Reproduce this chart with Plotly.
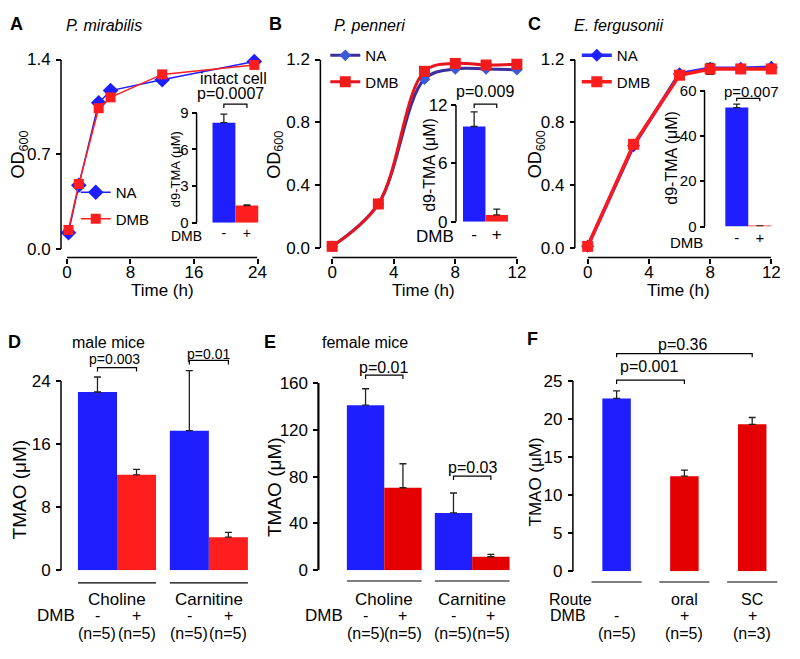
import plotly.graph_objects as go

W, H = 800, 659
def fx(p): return p / W
def fy(p): return 1 - p / H

FONT = "Liberation Sans, Arial, Helvetica, sans-serif"
BLUE = "#1e1eff"
RED = "#ff1e1e"
DRED = "#e40000"
INK = "black"

# ---------------- data ----------------
# A: P. mirabilis growth (OD600)
a_time = [0.2, 1.5, 4, 5.5, 12, 23.6]
a_na = [0.12, 0.47, 1.08, 1.17, 1.25, 1.385]
a_dmb = [0.14, 0.48, 1.04, 1.12, 1.29, 1.36]
# B: P. penneri
b_time = [0, 3, 6, 8, 10, 12]
b_na = [0.01, 0.28, 1.075, 1.14, 1.14, 1.135]
b_dmb = [0.01, 0.28, 1.125, 1.175, 1.165, 1.17]
# C: E. fergusonii
c_time = [0, 3, 6, 8, 10, 12]
c_na = [0.01, 0.65, 1.11, 1.145, 1.145, 1.15]
c_dmb = [0.01, 0.66, 1.10, 1.14, 1.14, 1.14]
c_dmb_err = [0, 0, 0, 0.035, 0, 0]
# insets: d9-TMA (uM)
inset_cats = ["-", "+"]
inset_a = [8.2, 1.4]
inset_a_err = [0.7, 0.05]
inset_b = [9.8, 0.7]
inset_b_err = [1.5, 0.6]
inset_c = [52.5, 0.3]
inset_c_err = [1.5, 0.0]
# D / E: TMAO (uM) in mice
mice_groups = ["Choline", "Carnitine"]
d_na = [22.6, 17.7]
d_na_err = [1.9, 7.6]
d_dmb = [12.1, 4.2]
d_dmb_err = [0.7, 0.6]
e_na = [141, 49]
e_na_err = [14, 17]
e_dmb = [70.5, 11.6]
e_dmb_err = [20.5, 2.0]
mice_n = ["(n=5)", "(n=5)"]
# F: route
f_keys = ["none", "oral", "SC"]
f_route = ["", "oral", "SC"]
f_dmb = ["-", "+", "+"]
f_vals = [22.7, 12.5, 19.3]
f_err = [1.0, 0.8, 0.9]
f_n = ["(n=5)", "(n=5)", "(n=3)"]

fig = go.Figure()

def line_trace(x, y, name, sym, size, mcolor, lcolor, lw, xa, ya, leg, shape="linear", err=None):
    kw = {}
    if err is not None:
        kw["error_y"] = dict(type="data", array=err, color="#222", thickness=1.2, width=4)
    fig.add_trace(go.Scatter(
        x=x, y=y, name=name, mode="lines+markers", legendgroup=name,
        marker=dict(symbol=sym, size=size, color=mcolor, line=dict(width=0)),
        line=dict(color=lcolor, width=lw, shape=shape),
        xaxis=xa, yaxis=ya, legend=leg, cliponaxis=False, **kw))

line_trace(a_time, a_na, "NA", "diamond", 12, BLUE, BLUE, 1.5, "x", "y", "legend")
line_trace(a_time, a_dmb, "DMB", "square", 10, RED, RED, 1.5, "x", "y", "legend")
line_trace(b_time, b_na, "NA", "diamond", 9, "#3a5ad8", "#3b2f9e", 3, "x2", "y2", "legend2", "spline")
line_trace(b_time, b_dmb, "DMB", "square", 11, "#f01c1c", "#e8141c", 3, "x2", "y2", "legend2", "spline")
line_trace(c_time, c_na, "NA", "diamond", 10, BLUE, "#2a2aff", 3.5, "x3", "y3", "legend3")
line_trace(c_time, c_dmb, "DMB", "square", 11, RED, "#ff1a1a", 3.5, "x3", "y3", "legend3", err=c_dmb_err)

def err_up(arr):
    return dict(type="data", array=arr, arrayminus=[0] * len(arr), symmetric=False,
                color="#222", thickness=1.3, width=3.5)

for vals, errs, xa, ya in [(inset_a, inset_a_err, "x4", "y4"),
                           (inset_b, inset_b_err, "x5", "y5"),
                           (inset_c, inset_c_err, "x6", "y6")]:
    fig.add_trace(go.Bar(x=inset_cats, y=vals, width=1, marker=dict(color=[BLUE, RED], line=dict(width=0)),
                         error_y=err_up(errs), xaxis=xa, yaxis=ya, showlegend=False))

BW = 0.425
for na, nae, dm, dme, xa, ya, rc in [(d_na, d_na_err, d_dmb, d_dmb_err, "x7", "y7", RED),
                                     (e_na, e_na_err, e_dmb, e_dmb_err, "x8", "y8", DRED)]:
    fig.add_trace(go.Bar(x=mice_groups, y=na, width=BW, offset=-BW, marker=dict(color=BLUE, line=dict(width=0)),
                         error_y=err_up(nae), xaxis=xa, yaxis=ya, showlegend=False))
    fig.add_trace(go.Bar(x=mice_groups, y=dm, width=BW, offset=0, marker=dict(color=rc, line=dict(width=0)),
                         error_y=err_up(dme), xaxis=xa, yaxis=ya, showlegend=False))

FW = 0.42
fig.add_trace(go.Bar(x=f_keys, y=f_vals, width=FW, marker=dict(color=[BLUE, DRED, DRED], line=dict(width=0)),
                     error_y=err_up(f_err), xaxis="x9", yaxis="y9", showlegend=False))

# ---------------- axes ----------------
def yax(zero_px, ref_val, ref_px, ymax, pos, tickvals, size, fmt="", tw=1.5, standoff=2):
    scale = (zero_px - ref_px) / ref_val
    top = zero_px - ymax * scale
    return dict(domain=[fy(zero_px), fy(top)], range=[0, ymax], anchor="free", position=fx(pos),
                showline=False, showgrid=False, zeroline=False, ticks="outside", ticklen=5,
                tickwidth=tw, tickcolor=INK, tickvals=tickvals, tickformat=fmt,
                ticklabelstandoff=standoff,
                tickfont=dict(size=size, color=INK, family=FONT), fixedrange=True)

def xnum(left, right, rng, pos, tickvals, size):
    return dict(domain=[fx(left), fx(right)], range=rng, anchor="free", position=fy(pos),
                showline=False, showgrid=False, zeroline=False, ticks="outside", ticklen=5,
                tickwidth=1.5, tickcolor=INK, tickvals=tickvals, ticklabelstandoff=-6,
                tickfont=dict(size=size, color=INK, family=FONT), fixedrange=True)

def xcat(left, right, n, anchor, size=14, visible=True):
    return dict(domain=[fx(left), fx(right)], range=[-0.5, n - 0.5], anchor=anchor, type="category",
                showline=False, showgrid=False, zeroline=False, ticks="", visible=visible,
                tickfont=dict(size=size, color=INK, family=FONT), fixedrange=True)

lay = dict(
    xaxis=xnum(63, 257, [0, 24], 256, [0, 8, 16, 24], 17),
    yaxis=yax(247, 1.4, 52, 1.4, 57, [0, 0.7, 1.4], 17, ".1f"),
    xaxis2=xnum(333, 521, [0, 12], 256, [0, 4, 8, 12], 17),
    yaxis2=yax(246, 1.2, 52, 1.2, 321, [0, 0.4, 0.8, 1.2], 17, ".1f"),
    xaxis3=xnum(593, 780, [0, 12], 256, [0, 4, 8, 12], 17),
    yaxis3=yax(246, 1.2, 52, 1.2, 580, [0, 0.4, 0.8, 1.2], 17, ".1f"),
    xaxis4=xcat(211, 258, 2, "y4", 14),
    yaxis4=yax(220, 9, 107, 10.2, 195, [0, 3, 6, 9], 15, standoff=0),
    xaxis5=xcat(466, 512, 2, "y5", 17),
    yaxis5=yax(219, 12, 99, 12.6, 459, [0, 6, 12], 17, standoff=0),
    xaxis6=xcat(733, 780, 2, "y6", 15),
    yaxis6=yax(224, 60, 84, 60, 712, [0, 20, 40, 60], 15, standoff=0),
    xaxis7=xcat(67.25, 254.25, 2, "y7", visible=False),
    yaxis7=yax(578, 24, 383, 27.5, 57, [0, 8, 16, 24], 17),
    xaxis8=xcat(341.25, 520.25, 2, "y8", visible=False),
    yaxis8=yax(578, 160, 385, 170, 319, [0, 40, 80, 120, 160], 17, tw=2.2),
    xaxis9=xcat(588, 795, 3, "y9", visible=False),
    yaxis9=yax(579, 25, 383, 29.5, 578, [0, 5, 10, 15, 20, 25], 17),
)

shapes = []
def vline(pos, ya, y1, w=1.5):
    shapes.append(dict(type="line", xref="paper", yref=ya, x0=fx(pos), x1=fx(pos), y0=0, y1=y1,
                       line=dict(color=INK, width=w)))
def hline(xa, x0, x1, pos, w=1.5):
    shapes.append(dict(type="line", xref=xa, yref="paper", x0=x0, x1=x1, y0=fy(pos), y1=fy(pos),
                       line=dict(color=INK, width=w)))
def bracket(xa, ya, x0, x1, top, leg):
    shapes.append(dict(type="path", xref=xa, yref=ya,
                       path=f"M{x0},{leg} L{x0},{top} L{x1},{top} L{x1},{leg}",
                       line=dict(color=INK, width=1.2)))

vline(57, "y", 1.4); hline("x", 0, 24, 256)
vline(321, "y2", 1.2); hline("x2", 0, 12, 256)
vline(580, "y3", 1.2); hline("x3", 0, 12, 256)
vline(195, "y4", 9); vline(459, "y5", 12); vline(712, "y6", 60)
vline(57, "y7", 24); vline(319, "y8", 160, 2.2); vline(578, "y9", 25)

bracket("x4", "y4", 0, 1, 9.72, 9.4)
bracket("x5", "y5", 0, 1, 12.1, 11.7)
bracket("x6", "y6", 0, 1, 56.6, 55.3)
h = BW / 2
bracket("x7", "y7", -h, h, 25.7, 25.2)
bracket("x7", "y7", 1 - h, 1 + h, 26.6, 26.1)
bracket("x8", "y8", -h, h, 166.6, 163.3)
bracket("x8", "y8", 1 - h, 1 + h, 80.4, 77.1)
bracket("x9", "y9", 0, 1, 25.1, 24.6)
bracket("x9", "y9", 0, 2, 28.6, 28.1)

# group underlines
for i in range(len(mice_groups)):
    hline("x7", i - BW, i + BW, 591, 1.2)
    hline("x8", i - BW, i + BW, 589, 1.2)
for i in range(len(f_keys)):
    hline("x9", i - 0.37, i + 0.37, 590, 1.2)

ann = []
def text(x, y, s, size=16, xref="paper", yref="paper", angle=0, xanchor="center", yanchor="middle"):
    if not s:
        return
    ann.append(dict(x=fx(x) if xref == "paper" else x, y=fy(y) if yref == "paper" else y,
                    xref=xref, yref=yref, text=s, showarrow=False, textangle=angle,
                    xanchor=xanchor, yanchor=yanchor, font=dict(size=size, color=INK, family=FONT)))

for lab, x, y in [("A", 12, 15), ("B", 275, 15), ("C", 539, 15), ("D", 10, 343), ("E", 270, 343), ("F", 537, 340)]:
    text(x, y, f"<b>{lab}</b>", 18)
text(101, 17, "<i>P. mirabilis</i>", 16)
text(371, 17, "<i>P. penneri</i>", 16)
text(624, 17, "<i>E. fergusonii</i>", 16)
text(105, 343, "male mice", 16)
text(366, 343, "female mice", 16)
for x in (15, 275, 541):
    text(x, 150, "OD<sub>600</sub>", 18, angle=-90)
for x in (160, 426, 685):
    text(x, 290, "Time (h)", 17)
text(15, 495, "TMAO (μM)", 19, angle=-90)
text(275, 492, "TMAO (μM)", 19, angle=-90)
text(540, 487, "TMAO (μM)", 17, angle=-90)
text(173, 165, "d9-TMA (μM)", 13, angle=-90)
text(432, 160, "d9-TMA (μM)", 16, angle=-90)
text(678, 153, "d9-TMA (μM)", 16, angle=-90)
text(185, 234, "DMB", 14)
text(438, 234, "DMB", 17)
text(694, 240, "DMB", 15)
text(233, 72, "intact cell", 16)
text(230, 87, "p=0.0007", 16)
text(489, 85, "p=0.009", 16)
text(760, 85, "p=0.007", 15)
text(111, 360, "p=0.003", 14)
text(207, 355, "p=0.01", 14)
text(385, 369, "p=0.01", 16)
text(476, 472, "p=0.03", 16)
text(655, 368, "p=0.001", 16)
text(690, 345, "p=0.36", 16)
for xa, dmbx in (("x7", 52), ("x8", 325)):
    text(dmbx, 625, "DMB", 17)
    for i, g in enumerate(mice_groups):
        text(i, 608, g, 17, xref=xa)
        text(i - h, 625, "-", 16, xref=xa)
        text(i + h, 625, "+", 16, xref=xa)
        text(i - h, 643, mice_n[i], 16, xref=xa)
        text(i + h, 643, mice_n[i], 16, xref=xa)
text(576, 608, "Route", 16)
text(573, 625, "DMB", 16)
for i in range(len(f_keys)):
    text(i, 608, f_route[i], 16, xref="x9")
    text(i, 625, f_dmb[i], 16, xref="x9")
    text(i, 643, f_n[i], 16, xref="x9")

def legend(x, y):
    return dict(x=fx(x), y=fy(y), xanchor="left", yanchor="top", bgcolor="rgba(0,0,0,0)",
                borderwidth=0, tracegroupgap=4, font=dict(size=15, color=INK, family=FONT))

fig.update_layout(
    width=W, height=H, autosize=False, margin=dict(l=0, r=0, t=0, b=0),
    paper_bgcolor="white", plot_bgcolor="rgba(0,0,0,0)",
    font=dict(family=FONT, color=INK), showlegend=True,
    legend=legend(72, 172), legend2=legend(326, 31), legend3=legend(582, 31),
    shapes=shapes, annotations=ann, **lay)

fig.write_html("out.html", config={"displayModeBar": False},
               post_script="document.body.style.margin='0';")
